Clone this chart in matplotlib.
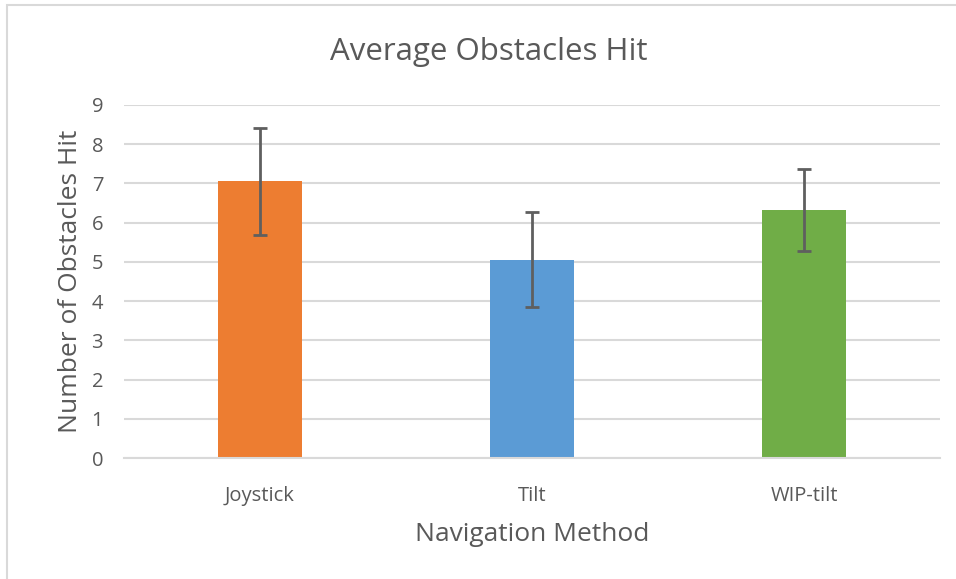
import matplotlib.pyplot as plt
from matplotlib.patches import Rectangle

# --- Dati ---
metodi = ['Joystick', 'Tilt', 'WIP-tilt']
media_ostacoli = [7.05, 5.05, 6.33]
errore = [1.37, 1.21, 1.04]
colori = ['#ed7d31', '#5b9bd5', '#70ad47']
# ------------

GRIGIO_TESTO = '#595959'

plt.rcParams['font.family'] = ['Open Sans', 'DejaVu Sans']

fig = plt.figure(figsize=(9.56, 5.79), dpi=100)
ax = fig.add_axes([124 / 956, 1 - 458 / 579, 816 / 956, 353 / 579])

x = range(len(metodi))
ax.bar(x, media_ostacoli, width=0.31, color=colori, zorder=2)
ax.errorbar(x, media_ostacoli, yerr=errore, fmt='none', ecolor='#5f5f5f',
            elinewidth=2, capsize=5, capthick=2, zorder=3)

ax.set_xlim(-0.5, 2.5)
ax.set_ylim(0, 9)
ax.set_yticks(range(10))
ax.set_xticks(list(x))
ax.set_xticklabels(metodi)
ax.grid(axis='y', color='#d9d9d9', linewidth=1.5, zorder=0)
ax.set_axisbelow(True)
for lato in ['top', 'right', 'left']:
    ax.spines[lato].set_visible(False)
ax.spines['bottom'].set_color('#d9d9d9')
ax.spines['bottom'].set_linewidth(1.5)
ax.tick_params(length=0, labelcolor=GRIGIO_TESTO, labelsize=14.5)
ax.tick_params(axis='x', pad=20)
ax.tick_params(axis='y', pad=15)

fig.text(489 / 956, 1 - 52 / 579, 'Average Obstacles Hit', fontsize=22.5,
         color=GRIGIO_TESTO, ha='center', va='center')
ax.set_xlabel('Navigation Method', fontsize=19, color=GRIGIO_TESTO, labelpad=12)
ax.set_ylabel('Number of Obstacles Hit', fontsize=19, color=GRIGIO_TESTO, labelpad=6)

# cornice del grafico
fig.patches.append(Rectangle((7 / 956, -0.01), 1, 1 - 5 / 579 + 0.01,
                             transform=fig.transFigure, fill=False,
                             edgecolor='#d9d9d9', linewidth=1.5))

fig.savefig('out.png', dpi=100)
